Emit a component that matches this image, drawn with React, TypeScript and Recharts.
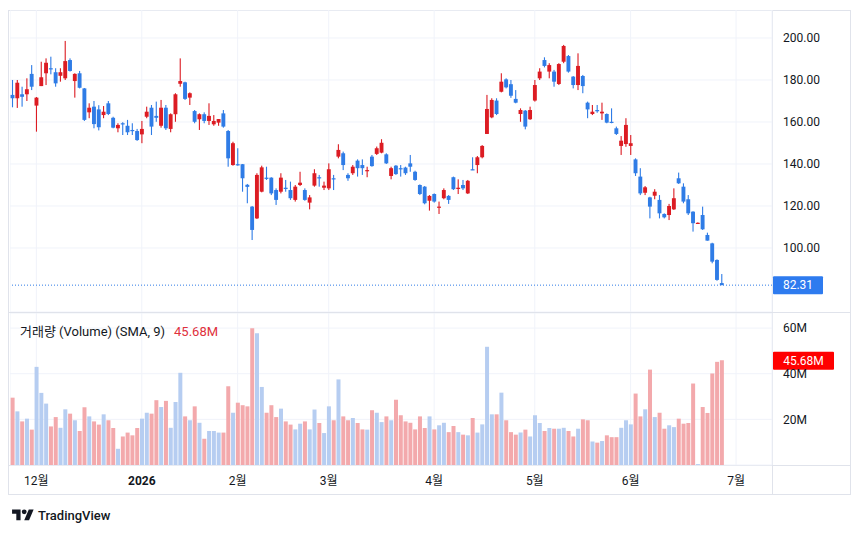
import React from "react";
import {
  ComposedChart,
  Bar,
  Cell,
  XAxis,
  YAxis,
  CartesianGrid,
  ReferenceLine,
} from "recharts";

// daily candles, late Nov 2025 .. late Jun 2026
const opens = [
  172.9, 171.3, 173.2, 173.2, 182.9, 167.8, 177.1, 183.2, 185.6, 183.7,
  182, 180.8, 189.5, 179.5, 183.2, 176, 164.6, 167.3, 166, 163.3,
  168.9, 162, 157, 159.4, 158.2, 156.2, 155.7, 154.1, 162.5, 166.8,
  162.9, 158.2, 166.8, 156.7, 163.7, 178.2, 178.9, 171.6, 165.2, 161.3,
  163.7, 160.5, 158.9, 159.7, 164.1, 155.7, 139.5, 139.9, 139.9, 130.1,
  119.7, 114.1, 126.8, 133.5, 133.5, 127.6, 126.8, 128.7, 127.6, 122.9,
  130, 127.6, 121.6, 129.7, 133.7, 128.7, 128.4, 133.2, 143.5, 145.1,
  134.8, 135.6, 141.6, 139.5, 136.8, 143.5, 144.8, 145.4, 144.6, 134.3,
  139.2, 138, 138.3, 140.3, 136.3, 130, 129.2, 122.5, 125.7, 119.4,
  123.7, 124.8, 133.7, 128.1, 130, 126, 137.5, 139.5, 143.2, 154.3,
  162.2, 170.2, 174.4, 180.3, 178, 171, 163.8, 165.4, 161.3, 170.2,
  180.8, 189.5, 184, 184, 178.1, 188.7, 191.4, 181.6, 177.6, 181.9,
  169.2, 163.8, 165.7, 164.1, 163.8, 160.1, 157, 148.6, 149.5, 148.6,
  142.2, 134, 126.3, 124.1, 124.9, 122.9, 116.2, 115.7, 118.4, 133.2,
  129.2, 123.2, 117.3, 111.8, 115.7, 106.2, 102.2, 94.3, 83.3,
];
const highs = [
  180, 180, 176.8, 180.8, 187.1, 171.9, 188.7, 190.3, 191.1, 185.6,
  185.6, 198.6, 190.3, 183.2, 184.3, 176.2, 168.9, 170, 168, 167.6,
  170, 162.5, 159.4, 159.9, 161, 159.4, 156.7, 160.5, 167.3, 168.1,
  169.7, 170.5, 168.1, 164.1, 173.7, 190.3, 179.2, 174.1, 165.7, 164.1,
  164.6, 168.9, 163.3, 161.4, 165.7, 156.2, 150.6, 147.5, 140, 130.5,
  120, 135.6, 139.2, 138.7, 133.7, 128.4, 135.6, 132.4, 131.6, 130,
  136.3, 128.4, 125.2, 137.5, 134.8, 131.6, 140.3, 134.8, 149.4, 145.9,
  135.6, 139.5, 142.2, 142.2, 138.7, 144.3, 148.3, 151.8, 145.1, 138.7,
  139.5, 139.5, 138.7, 144.3, 136.8, 130.3, 129.5, 125.2, 126, 122.1,
  128.4, 125.2, 134, 132.7, 132.4, 132.4, 143.2, 143.8, 149, 172.9,
  171.3, 171.3, 183.2, 180.8, 180, 175.2, 166.5, 165.7, 167.3, 180,
  185.6, 190.8, 188, 184.8, 188, 196.7, 191.9, 181.9, 192.7, 182.4,
  169.7, 168.1, 168.1, 169.2, 164.1, 166.5, 157.8, 153.3, 161.8, 153.8,
  142.7, 138, 129.5, 124.4, 128, 125.2, 116.5, 121, 128.4, 135.9,
  130.8, 125.2, 117.5, 112.2, 119.7, 107.3, 102.5, 94.6, 87.6,
];
const lows = [
  167, 166.7, 167.3, 170, 175.2, 155.4, 177.1, 177.6, 182.7, 176.8,
  179.2, 180, 184, 171.6, 176, 160.5, 161.8, 157, 156, 161.8,
  163.3, 157, 155.1, 153.8, 153.8, 153.8, 151, 149.9, 161.8, 153.8,
  160.1, 157.3, 156.2, 155.1, 160.1, 176.8, 170.5, 168.1, 159.4, 156.2,
  159.4, 158.6, 158.2, 158.2, 157.3, 138.7, 139.2, 139.2, 126.8, 121.3,
  103.8, 113.8, 126.5, 132.4, 125.2, 120.5, 126, 126.8, 122.9, 122.1,
  129.5, 122.5, 118.4, 129.2, 129.2, 127.6, 127.6, 127.6, 142.7, 137.1,
  132, 134.8, 134, 134.8, 133.7, 138.7, 144.3, 145.1, 140, 132.7,
  134.8, 134, 134.8, 136.3, 132, 125.2, 120.8, 117.8, 121.6, 116.2,
  123.2, 121, 127.6, 125.7, 127.6, 125.7, 137.1, 135.6, 142.7, 154.3,
  161.8, 163.3, 174.1, 176, 171.5, 168.9, 160.1, 156.5, 161, 169.7,
  180, 186, 180.8, 176.8, 177.6, 188, 183.5, 176, 175.2, 173.7,
  161.8, 163.3, 164.4, 161, 159.4, 159.4, 153.8, 144.3, 148.2, 144.3,
  134.3, 125.2, 125.2, 114.1, 123.2, 114.1, 114.1, 113.3, 118.1, 130.5,
  121.3, 115.7, 107.8, 111.6, 108.6, 103.5, 92.7, 84.4, 82.3,
];
const closes = [
  171.3, 178.7, 172, 175.6, 176.8, 171.6, 181.3, 188.2, 185.1, 178.4,
  183.7, 189, 184.3, 182.9, 176.3, 161, 166.8, 159, 157.5, 164.9,
  163.8, 157.3, 158.6, 158.9, 155.1, 155.7, 151.4, 156.7, 164.9, 157.8,
  162, 166.8, 157, 163.7, 173.2, 179.5, 171, 173.7, 160.1, 163.7,
  160.5, 162.9, 160.5, 161.4, 157.8, 142.7, 149.9, 139.5, 133.2, 129.1,
  108.6, 134.8, 138.4, 132.9, 126, 122.9, 133.5, 128.1, 123.7, 129.2,
  131.1, 122.9, 124.1, 135.6, 133.2, 129.7, 137.5, 132.7, 146.7, 139.5,
  133.2, 138.7, 138, 138, 137.1, 139, 147.5, 150.1, 140.3, 138,
  135.2, 137.5, 135.6, 138.7, 132.4, 125.7, 121.3, 124.8, 122.1, 119.7,
  127.6, 122.9, 128, 128.7, 128.4, 132, 137.1, 143.2, 148.6, 166.2,
  170.5, 163.8, 179.2, 176.5, 172.5, 169.2, 165.7, 157.8, 165.7, 177.6,
  184, 186.7, 187.1, 179.2, 187.6, 196.2, 184, 177.6, 186.7, 177.1,
  166, 164.9, 165.1, 164.9, 159.7, 159.7, 154.3, 151.1, 158.6, 149.9,
  135.6, 126, 128.9, 119.7, 126.8, 116.5, 114.6, 120, 123.7, 130.8,
  122.1, 116.5, 111.8, 112, 108.9, 103.5, 93.5, 84.8, 82.31,
];
// volume, millions of shares
const volumes = [
  29.5, 23.5, 19.1, 20.3, 15.5, 43, 31.6, 26.9, 16.9, 21,
  16.3, 24.4, 22.5, 19.6, 14.9, 25.3, 21.3, 19.1, 17.7, 22.2,
  19.6, 16.2, 7.1, 12.5, 14.2, 13, 16.2, 20.3, 22.9, 22.5,
  28.4, 25.4, 28.1, 16.3, 27.6, 40.4, 21.3, 19.6, 25.7, 18.5,
  11.5, 14.9, 14.9, 14.2, 14.2, 34.5, 22.9, 27.3, 26.2, 25.7,
  59.9, 57.7, 34.2, 22.9, 26.2, 21, 24.7, 19.1, 17.7, 15.6,
  18.1, 19.1, 15.6, 24.3, 18.4, 14, 25.7, 19.6, 37.5, 21.3,
  19.6, 20.6, 18.4, 15.6, 15.5, 24, 22.9, 18.8, 21.3, 19.6,
  28.6, 21.8, 19.1, 18.5, 15.6, 21.3, 16.2, 21.3, 15.6, 17.4,
  18.5, 14.4, 17.1, 14.4, 13.3, 13, 20.6, 14.2, 17.8, 51.8,
  22.2, 22.2, 31.7, 19.6, 14.4, 13.3, 14.2, 15.5, 12.5, 21.8,
  18.4, 14.9, 16.2, 15.9, 15.9, 16.3, 14.9, 12.5, 15.9, 20,
  19.6, 10.3, 9.8, 10.5, 13, 12.2, 12.2, 16.3, 19.6, 17.8,
  31.3, 21.3, 24.4, 41.8, 21, 22.9, 15.9, 17.4, 16.6, 20.3,
  18.1, 18.4, 35.7, 0.4, 25.4, 22.8, 40.1, 45.2, 45.9,
];

const monthTicks = [5, 27, 47, 66, 88, 109, 129, 151];
const monthLabels = ["12월", "2026", "2월", "3월", "4월", "5월", "6월", "7월"];
const priceTicks = [100, 120, 140, 160, 180, 200];
const volumeTicks = [20, 40, 60];
const lastPrice = 82.31;
const volumeSma = 45.68;
const futureSlots = 10;

const UP = "#dc1c23";
const DOWN = "#2f7ce6";
const VOL_UP = "#b6cdf1";
const VOL_DOWN = "#f3a9ac";
const GRID = "#f0f3fa";
const BORDER = "#e0e3eb";
const TEXT = "#131722";
const FONT = "Roboto, 'Noto Sans CJK KR', sans-serif";

const rows: any[] = [];
for (let i = 0; i < opens.length + futureSlots; i++) {
  if (i < opens.length) {
    rows.push({
      i,
      open: opens[i],
      high: highs[i],
      low: lows[i],
      close: closes[i],
      vol: volumes[i],
    });
  } else {
    rows.push({ i });
  }
}

const candleRange = (d: any) => (d.low == null ? null : [d.low, d.high]);

function Candle(props: any) {
  const { x, y, width, height, payload } = props;
  if (!payload || payload.open == null) return null;
  const top = Math.min(y, y + height);
  const bottom = Math.max(y, y + height);
  const span = payload.high - payload.low;
  const k = span > 0 ? (bottom - top) / span : 0;
  const yOpen = top + (payload.high - payload.open) * k;
  const yClose = top + (payload.high - payload.close) * k;
  const color = payload.close >= payload.open ? UP : DOWN;
  const cx = x + width / 2;
  const bodyW = 3.9;
  const bodyTop = Math.min(yOpen, yClose);
  const bodyH = Math.max(1.2, Math.abs(yClose - yOpen));
  return (
    <g>
      <rect x={cx - 0.55} y={top} width={1.1} height={Math.max(1, bottom - top)} fill={color} />
      <rect x={cx - bodyW / 2} y={bodyTop} width={bodyW} height={bodyH} fill={color} />
    </g>
  );
}

function MonthTick(props: any) {
  const { x, y, payload } = props;
  const k = monthTicks.indexOf(payload.value);
  const label = monthLabels[k] ?? "";
  return (
    <text
      x={x}
      y={y + 20}
      textAnchor="middle"
      fontSize={12}
      fontFamily={FONT}
      fontWeight={label === "2026" ? 700 : 400}
      fill={TEXT}
    >
      {label}
    </text>
  );
}

function Tag(props: any) {
  const { viewBox, text, fill, w } = props;
  if (!viewBox) return null;
  const x = viewBox.x + viewBox.width + 1;
  const y = viewBox.y;
  return (
    <g>
      <rect x={x} y={y - 9} width={w} height={18} rx={1} fill={fill} />
      <text
        x={x + w / 2}
        y={y + 4}
        textAnchor="middle"
        fontSize={12}
        fontFamily={FONT}
        fill="#ffffff"
      >
        {text}
      </text>
    </g>
  );
}

const axisTick = { fontSize: 12, fill: TEXT, fontFamily: FONT };

export default function App() {
  return (
    <div
      style={{
        position: "absolute",
        left: 0,
        top: 0,
        width: 860,
        height: 534,
        background: "#ffffff",
        fontFamily: FONT,
        overflow: "hidden",
      }}
    >
      {/* frame and pane separators */}
      <div style={{ position: "absolute", left: 8, top: 10, width: 843, height: 485, border: `1px solid ${BORDER}`, boxSizing: "border-box" }} />
      <div style={{ position: "absolute", left: 8, top: 312, width: 843, height: 1, background: BORDER }} />
      <div style={{ position: "absolute", left: 8, top: 465, width: 843, height: 1, background: BORDER }} />
      <div style={{ position: "absolute", left: 772, top: 10, width: 1, height: 485, background: BORDER }} />

      <div style={{ position: "absolute", left: 10, top: 10 }}>
        <ComposedChart
          width={842}
          height={302}
          data={rows}
          margin={{ top: 0, right: 0, bottom: 0, left: 0 }}
          barCategoryGap={0}
        >
          <CartesianGrid stroke={GRID} />
          <XAxis dataKey="i" type="category" hide ticks={monthTicks} interval={0} />
          <YAxis
            orientation="right"
            width={80}
            domain={[69.52, 213.33]}
            allowDataOverflow
            ticks={priceTicks}
            interval={0}
            tickFormatter={(v: number) => v.toFixed(2)}
            axisLine={false}
            tickLine={false}
            tickSize={0}
            tickMargin={11}
            tick={axisTick}
          />
          <ReferenceLine
            y={lastPrice}
            stroke={DOWN}
            strokeDasharray="1 2"
            label={<Tag text={lastPrice.toFixed(2)} fill="#2e7bef" w={50} />}
          />
          <Bar dataKey={candleRange} shape={(p: any) => <Candle {...p} />} isAnimationActive={false} />
        </ComposedChart>
      </div>

      <div style={{ position: "absolute", left: 10, top: 313 }}>
        <ComposedChart
          width={842}
          height={182}
          data={rows}
          margin={{ top: 0, right: 0, bottom: 0, left: 0 }}
          barCategoryGap={0.6}
        >
          <CartesianGrid stroke={GRID} />
          <XAxis
            dataKey="i"
            type="category"
            ticks={monthTicks}
            interval={0}
            height={30}
            axisLine={false}
            tickLine={false}
            tickSize={0}
            tickMargin={0}
            tick={<MonthTick />}
          />
          <YAxis
            orientation="right"
            width={80}
            domain={[0, 66.6]}
            allowDataOverflow
            ticks={volumeTicks}
            interval={0}
            tickFormatter={(v: number) => `${v}M`}
            axisLine={false}
            tickLine={false}
            tickSize={0}
            tickMargin={11}
            tick={axisTick}
          />
          <Bar dataKey="vol" isAnimationActive={false}>
            {rows.map((r) => (
              <Cell key={r.i} fill={r.close >= r.open ? VOL_UP : VOL_DOWN} />
            ))}
          </Bar>
          <ReferenceLine
            y={volumeSma}
            stroke="none"
            label={<Tag text={`${volumeSma}M`} fill="#ff0000" w={61} />}
          />
        </ComposedChart>
      </div>

      <div
        style={{
          position: "absolute",
          left: 20,
          top: 321,
          fontSize: 13,
          color: TEXT,
          whiteSpace: "nowrap",
        }}
      >
        거래량 (Volume) (SMA, 9)
        <span style={{ color: "#e0313c", marginLeft: 9 }}>{`${volumeSma}M`}</span>
      </div>

      <div style={{ position: "absolute", left: 12, top: 507, display: "flex", alignItems: "center" }}>
        <svg width={22} height={17} viewBox="0 0 36 28">
          <path d="M14 22H7V11H0V4h14v18zM28 22h-8l7.5-18h8L28 22z" fill={TEXT} />
          <circle cx={20} cy={8} r={4} fill={TEXT} />
        </svg>
        <span style={{ marginLeft: 4, fontSize: 13, fontWeight: 500, color: TEXT }}>TradingView</span>
      </div>
    </div>
  );
}
